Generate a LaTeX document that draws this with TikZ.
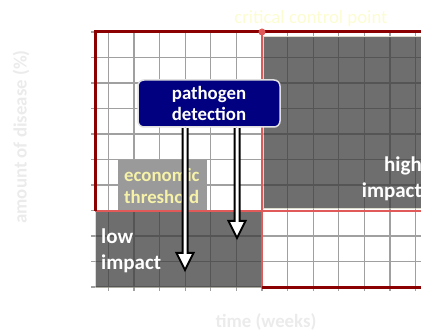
\documentclass[tikz,border=0pt]{standalone}
\usepackage{fontspec}
\setmainfont{Carlito}
\usetikzlibrary{calc}
\definecolor{gridgray}{HTML}{A0A0A0}
\definecolor{darkgrid}{HTML}{555555}
\definecolor{boxgray}{HTML}{6E6E6E}
\definecolor{econgray}{HTML}{9A9A9A}
\definecolor{dred}{HTML}{8B0000}
\definecolor{salmon}{HTML}{E05A5A}
\definecolor{navybox}{HTML}{000080}
\definecolor{paleyellow}{HTML}{F6F2A8}
\definecolor{faintyellow}{HTML}{FCFCD2}
\definecolor{faintgray}{HTML}{EBEBEB}
\definecolor{edgebeige}{HTML}{DCDCCC}
\tikzset{
  gridline/.style={draw=gridgray, line width=1.2pt},
  darkgridline/.style={draw=darkgrid, line width=1.2pt},
  impactbox/.style={fill=boxgray, draw=edgebeige, line width=1pt},
  redframe/.style={draw=dred, line width=3pt},
  salmonline/.style={draw=salmon, line width=1.5pt},
  pdbox/.style={fill=navybox, draw=white!88!black, line width=1.5pt, rounded corners=6pt,
    minimum width=142pt, minimum height=47pt, inner sep=0pt, text=white, align=center,
    font=\fontsize{18.8}{21}\selectfont\bfseries},
  econbox/.style={fill=econgray, draw=none, minimum width=89pt, minimum height=50pt, inner sep=0pt},
  econtext/.style={text=paleyellow, align=left, inner sep=0pt, font=\fontsize{18.8}{21.5}\selectfont\bfseries},
  impacttext/.style={text=white, inner sep=0pt, font=\fontsize{21}{26.5}\selectfont\bfseries},
  axistitle/.style={text=faintgray, inner sep=0pt, font=\fontsize{18.8}{22}\selectfont\bfseries},
  hollowarrow/.style={fill=white, draw=black, line width=2pt, line join=miter}
}
\begin{document}
\begin{tikzpicture}[x=1pt,y=-1pt]
\useasboundingbox (0,0) rectangle (421,331);
\clip (0,0) rectangle (421,331);
% grid
\foreach \i in {0,...,12} \draw[gridline] ({108.3+25.6*\i},32) -- ({108.3+25.6*\i},291);
\foreach \j in {0,...,10} \draw[gridline] (91,{32+25.5*\j}) -- (430,{32+25.5*\j});
% impact boxes
\path[impactbox] (263,37) rectangle (432,209);
\path[impactbox] (95,211) rectangle (262,288);
\begin{scope}
  \clip (263.5,37.5) rectangle (432,208.5) (95.5,211.5) rectangle (261.5,287.5);
  \foreach \i in {0,...,12} \draw[darkgridline] ({108.3+25.6*\i},32) -- ({108.3+25.6*\i},291);
  \foreach \j in {0,...,10} \draw[darkgridline] (91,{32+25.5*\j}) -- (430,{32+25.5*\j});
\end{scope}
% frame lines
\draw[salmonline] (95,211) -- (430,211);
\draw[salmonline] (262,32) -- (262,288);
\draw[redframe] (95,32) -- (430,32);
\draw[redframe] (95,30.5) -- (95,211);
\draw[redframe] (262,287.5) -- (430,287.5);
\fill[salmon] (262,32) circle (3.5pt);
% economic threshold
\node[econbox] (eb) at (162.5,185) {};
\node[econtext, anchor=west] (et) at (124,186) {economic\\threshold};
% impact labels
\node[impacttext, anchor=west, align=left] (lt) at (101,251) {low\\impact};
\node[impacttext, anchor=east, align=right] (ht) at (422,179) {high\\impact};
% pathogen detection
\node[pdbox] (pd) at (209,103.5) {pathogen\\detection};
\coordinate (t1) at (185,272);
\coordinate (t2) at (237,240);
\filldraw[hollowarrow] ($(pd.south -| t1)+(-2.5,0.5)$) -- ($(t1)+(-2.5,-19)$) -- ($(t1)+(-8.5,-19)$)
  -- ($(t1)+(0,-2)$) -- ($(t1)+(8.5,-19)$) -- ($(t1)+(2.5,-19)$) -- ($(pd.south -| t1)+(2.5,0.5)$);
\filldraw[hollowarrow] ($(pd.south -| t2)+(-2.5,0.5)$) -- ($(t2)+(-2.5,-19)$) -- ($(t2)+(-8.5,-19)$)
  -- ($(t2)+(0,-2)$) -- ($(t2)+(8.5,-19)$) -- ($(t2)+(2.5,-19)$) -- ($(pd.south -| t2)+(2.5,0.5)$);
% titles
\node[anchor=base, text=faintyellow, inner sep=0pt, font=\fontsize{18.8}{22}\selectfont] (ccp) at (311,24) {critical control point};
\node[axistitle, rotate=90] (yl) at (21,137) {amount of disease (\%)};
\node[axistitle] (xl) at (266,322) {time (weeks)};
\end{tikzpicture}
\end{document}
